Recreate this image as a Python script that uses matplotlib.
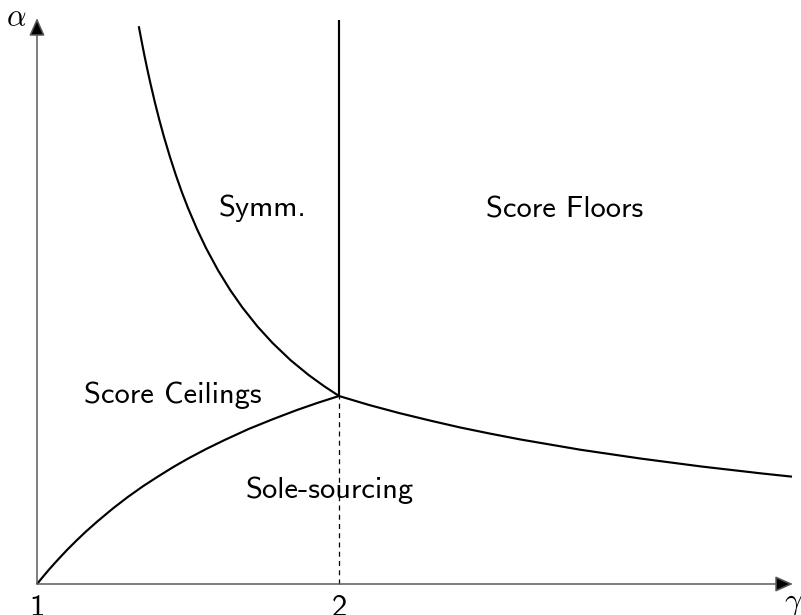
import matplotlib
matplotlib.use("Agg")
import matplotlib.pyplot as plt

# regime boundaries in the (gamma, alpha) plane
symm_gamma = [1.337, 1.345, 1.355, 1.365, 1.375, 1.39, 1.405, 1.42, 1.44, 1.46,
              1.48, 1.50, 1.53, 1.56, 1.60, 1.64, 1.68, 1.73, 1.78, 1.84,
              1.90, 1.95, 2.00]
symm_alpha = [2.967, 2.899, 2.817, 2.740, 2.667, 2.564, 2.469, 2.381, 2.273, 2.174,
              2.083, 2.000, 1.887, 1.786, 1.667, 1.563, 1.471, 1.370, 1.282, 1.190,
              1.111, 1.053, 1.000]

ceil_gamma = [1.00, 1.02, 1.04, 1.06, 1.08, 1.10, 1.13, 1.16, 1.20, 1.25,
              1.30, 1.35, 1.40, 1.45, 1.50, 1.56, 1.62, 1.70, 1.78, 1.86,
              1.93, 2.00]
ceil_alpha = [0.000, 0.039, 0.077, 0.113, 0.148, 0.182, 0.230, 0.276, 0.333, 0.400,
              0.462, 0.519, 0.571, 0.621, 0.667, 0.718, 0.765, 0.824, 0.876, 0.925,
              0.964, 1.000]

floor_gamma = [2.00, 2.10, 2.20, 2.30, 2.40, 2.50, 2.60, 2.80, 3.00, 3.20, 3.40, 3.50]
floor_alpha = [1.000, 0.952, 0.909, 0.870, 0.833, 0.800, 0.769, 0.714, 0.667, 0.625,
               0.588, 0.571]

split_gamma = 2.0
split_alpha = [1.0, 3.0]

x_ticks = [1, 2]
region_labels = ["Symm.", "Score Floors", "Score Ceilings", "Sole-sourcing"]
label_pos = [(1.748, 1.958), (2.748, 1.952), (1.450, 0.965), (1.970, 0.460)]

plt.rcParams["mathtext.fontset"] = "cm"
txt_font = "cmss10"

fig = plt.figure(figsize=(8.01, 6.15), dpi=100)
ax = fig.add_axes([0, 0, 1, 1])
ax.set_xlim(0.8775, 3.5298)
ax.set_ylim(-0.1649, 3.1064)
ax.axis("off")

# axes with arrow heads
arrow = dict(arrowstyle="-|>,head_length=0.54,head_width=0.24", mutation_scale=20,
             shrinkA=0, shrinkB=0, lw=1.1, edgecolor="#5a5a5a", facecolor="black")
ax.annotate("", xy=(3.503, 0), xytext=(1, 0), arrowprops=arrow)
ax.annotate("", xy=(1, 3.01), xytext=(1, 0), arrowprops=arrow)

# boundaries
for gx, ay in [(symm_gamma, symm_alpha), (ceil_gamma, ceil_alpha),
               (floor_gamma, floor_alpha)]:
    ax.plot(gx, ay, color="black", lw=1.55, solid_capstyle="butt",
            solid_joinstyle="round")
ax.plot([split_gamma, split_gamma], split_alpha, color="black", lw=1.55,
        solid_capstyle="butt")
ax.plot([split_gamma, split_gamma], [0, split_alpha[0]], color="black", lw=0.9,
        dashes=(4.0, 3.4))

for name, (gx, ay) in zip(region_labels, label_pos):
    ax.text(gx, ay, name, family=txt_font, fontsize=22, ha="center", va="baseline")

for t in x_ticks:
    ax.text(t, -0.06, str(t), family=txt_font, fontsize=22, ha="center", va="top")

ax.text(0.930, 3.011, r"$\alpha$", fontsize=22, ha="center", va="center")
ax.text(3.503, -0.106, r"$\gamma$", fontsize=22, ha="center", va="center")

fig.savefig("out.png", dpi=100)
